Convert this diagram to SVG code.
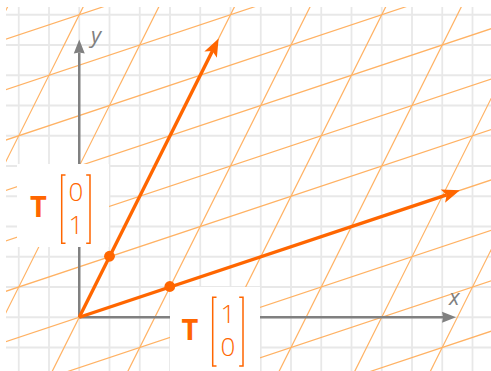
<svg xmlns="http://www.w3.org/2000/svg" width="491" height="371" viewBox="0 0 491 371">
<style>
.grid line{stroke:#e8e8e8;stroke-width:1.8}
.tg line{stroke:#ffb264;stroke-width:1.2}
.axis{stroke:#808080;stroke-width:2.5;fill:none}
.vec{stroke:#ff6600;stroke-width:3.4;fill:none}
.box{fill:#ffffff}
.T{font-family:"Open Sans","DejaVu Sans",sans-serif;font-weight:bold;font-size:29px;fill:#ff6600;text-anchor:middle}
.num{font-family:"Open Sans","DejaVu Sans",sans-serif;font-weight:300;font-size:26px;fill:#ff6600;text-anchor:middle}
.br{stroke:#ff6600;stroke-width:1.5;fill:none}
.lab{font-family:"Open Sans","DejaVu Sans",sans-serif;font-style:italic;font-size:22px;fill:#808080}
</style>
<defs>
<clipPath id="area"><rect x="6" y="7" width="485" height="364"/></clipPath>
<marker id="ah" markerUnits="userSpaceOnUse" markerWidth="30" markerHeight="20" viewBox="-6 -10 30 20" refX="0" refY="0" orient="auto" overflow="visible">
<path d="M14,0 L-4,-7 L0,0 L-4,7 Z" fill="#ff6600"/>
</marker>
<marker id="ga" markerUnits="userSpaceOnUse" markerWidth="30" markerHeight="20" viewBox="-6 -10 30 20" refX="0" refY="0" orient="auto" overflow="visible">
<path d="M13,0 L-1,-5.5 L0,0 L-1,5.5 Z" fill="#808080"/>
</marker>
</defs>
<rect width="491" height="371" fill="#ffffff"/>
<g id="grid" class="grid">
<line x1="18.75" y1="7" x2="18.75" y2="371"/>
<line x1="49" y1="7" x2="49" y2="371"/>
<line x1="79.25" y1="7" x2="79.25" y2="371"/>
<line x1="109.5" y1="7" x2="109.5" y2="371"/>
<line x1="139.75" y1="7" x2="139.75" y2="371"/>
<line x1="170" y1="7" x2="170" y2="371"/>
<line x1="200.25" y1="7" x2="200.25" y2="371"/>
<line x1="230.5" y1="7" x2="230.5" y2="371"/>
<line x1="260.75" y1="7" x2="260.75" y2="371"/>
<line x1="291" y1="7" x2="291" y2="371"/>
<line x1="321.25" y1="7" x2="321.25" y2="371"/>
<line x1="351.5" y1="7" x2="351.5" y2="371"/>
<line x1="381.75" y1="7" x2="381.75" y2="371"/>
<line x1="412" y1="7" x2="412" y2="371"/>
<line x1="442.25" y1="7" x2="442.25" y2="371"/>
<line x1="472.5" y1="7" x2="472.5" y2="371"/>
<line x1="6" y1="14.75" x2="491" y2="14.75"/>
<line x1="6" y1="45" x2="491" y2="45"/>
<line x1="6" y1="75.25" x2="491" y2="75.25"/>
<line x1="6" y1="105.5" x2="491" y2="105.5"/>
<line x1="6" y1="135.75" x2="491" y2="135.75"/>
<line x1="6" y1="166" x2="491" y2="166"/>
<line x1="6" y1="196.25" x2="491" y2="196.25"/>
<line x1="6" y1="226.5" x2="491" y2="226.5"/>
<line x1="6" y1="256.75" x2="491" y2="256.75"/>
<line x1="6" y1="287" x2="491" y2="287"/>
<line x1="6" y1="317.25" x2="491" y2="317.25"/>
<line x1="6" y1="347.5" x2="491" y2="347.5"/>
</g>
<g id="transformed-grid" class="tg" clip-path="url(#area)">
<line x1="0" y1="494.92" x2="500" y2="328.25"/>
<line x1="0" y1="444.5" x2="500" y2="277.83"/>
<line x1="0" y1="394.08" x2="500" y2="227.42"/>
<line x1="0" y1="343.67" x2="500" y2="177"/>
<line x1="0" y1="293.25" x2="500" y2="126.58"/>
<line x1="0" y1="242.83" x2="500" y2="76.17"/>
<line x1="0" y1="192.42" x2="500" y2="25.75"/>
<line x1="0" y1="142" x2="500" y2="-24.67"/>
<line x1="0" y1="91.58" x2="500" y2="-75.08"/>
<line x1="0" y1="41.17" x2="500" y2="-125.5"/>
<line x1="11" y1="0" x2="-179" y2="380"/>
<line x1="86.625" y1="0" x2="-103.375" y2="380"/>
<line x1="162.25" y1="0" x2="-27.75" y2="380"/>
<line x1="237.875" y1="0" x2="47.875" y2="380"/>
<line x1="313.5" y1="0" x2="123.5" y2="380"/>
<line x1="389.125" y1="0" x2="199.125" y2="380"/>
<line x1="464.75" y1="0" x2="274.75" y2="380"/>
<line x1="540.375" y1="0" x2="350.375" y2="380"/>
<line x1="616" y1="0" x2="426" y2="380"/>
</g>
<g id="axes">
<line class="axis" x1="79.25" y1="317.25" x2="79.25" y2="52.5" marker-end="url(#ga)"/>
<line class="axis" x1="79.25" y1="317.25" x2="443" y2="317.25" marker-end="url(#ga)"/>
<text class="lab" x="91" y="43">y</text>
<text class="lab" x="449" y="305">x</text>
</g>
<g id="label-T01">
<rect class="box" x="17" y="164" width="92" height="83"/>
<text class="T" x="38.5" y="217">T</text>
<path class="br" d="M65.5,175 H61.7 V243.3 H65.5"/>
<path class="br" d="M86.2,175 H90 V243.3 H86.2"/>
<text class="num" x="76" y="201">0</text>
<text class="num" x="76" y="234">1</text>
</g>
<g id="label-T10">
<rect class="box" x="170" y="287" width="90" height="84"/>
<text class="T" x="190" y="340">T</text>
<path class="br" d="M216.5,297.3 H212.7 V366 H216.5"/>
<path class="br" d="M239.2,297.3 H243 V366 H239.2"/>
<text class="num" x="228" y="322.5">1</text>
<text class="num" x="228" y="356">0</text>
</g>
<g id="connectors">
<line class="vec" x1="79.25" y1="317.25" x2="446.67" y2="194.78" marker-end="url(#ah)"/>
<line class="vec" x1="79.25" y1="317.25" x2="212.39" y2="50.93" marker-end="url(#ah)"/>
</g>
<g id="dot-j" fill="#ff6600"><circle cx="109.5" cy="256.25" r="5.4"/></g>
<g id="dot-i" fill="#ff6600"><circle cx="169.8" cy="286.5" r="5.4"/></g>
</svg>
